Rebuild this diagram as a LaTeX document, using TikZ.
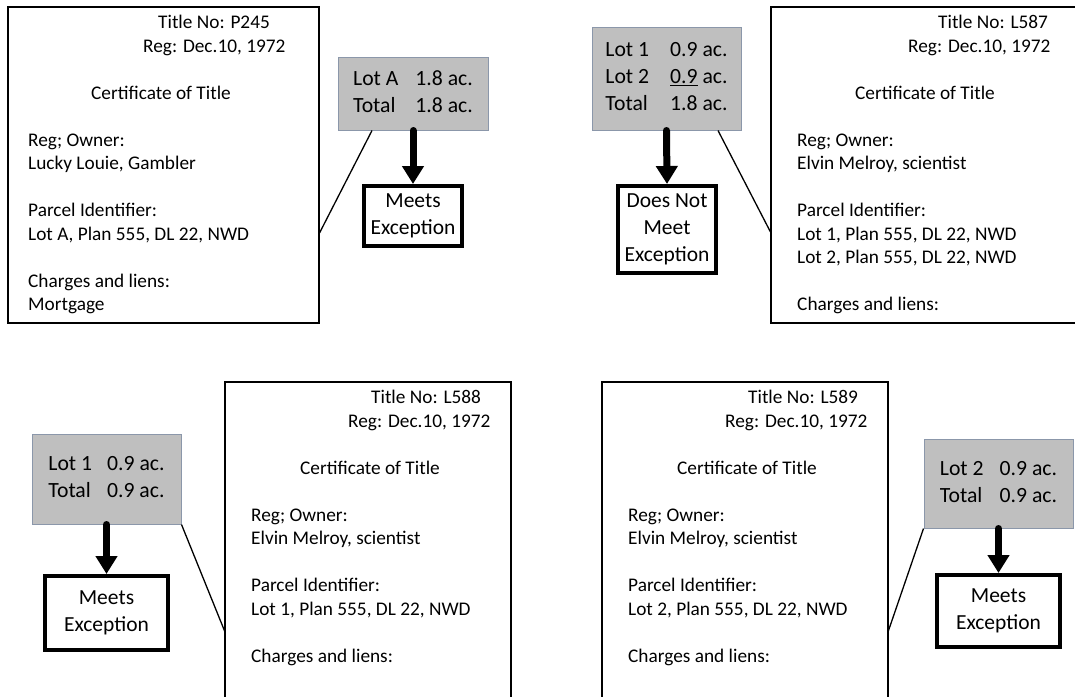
\documentclass[tikz,border=0pt]{standalone}
\usepackage{fontspec}
\setmainfont{Carlito}
\usetikzlibrary{arrows.meta}
\definecolor{lotfill}{RGB}{191,191,191}
\definecolor{lotedge}{RGB}{139,151,170}
\tikzset{
  cert/.style={draw, line width=1.4pt, inner sep=0pt, outer sep=0pt, anchor=north west},
  ctext/.style={font=\fontsize{19.3}{23.5}\selectfont, inner sep=0pt, anchor=base west},
  ctitle/.style={ctext, anchor=base},
  lots/.style={draw=lotedge, fill=lotfill, line width=1pt, inner sep=0pt,
    font=\fontsize{21.7}{27}\selectfont},
  verdict/.style={draw, line width=4pt, inner sep=0pt, align=center,
    font=\fontsize{21.5}{27}\selectfont},
  flow/.style={line width=7pt, line cap=round, -{Triangle[width=21pt,length=18pt]}},
  link/.style={line width=1.3pt},
}
\begin{document}
\begin{tikzpicture}[x=1pt, y=-1pt]
\useasboundingbox (0,0) rectangle (1075,696);
\clip (0,0) rectangle (1075,696);

% ---- Title P245 ----
\node[cert, minimum width=311pt, minimum height=316pt] (c1) at (8,7) {};
\node[ctext] (c1no) at (158,28) {Title No: P245};
\node[ctext] (c1reg) at (143,52) {Reg: Dec.10, 1972};
\node[ctitle] (c1cap) at (161,99) {Certificate of Title};
\node[ctext] (c1o) at (28,146) {Reg; Owner:};
\node[ctext] (c1on) at (28,169.5) {Lucky Louie, Gambler};
\node[ctext] (c1p) at (28,216.5) {Parcel Identifier:};
\node[ctext] (c1pa) at (28,240) {Lot A, Plan 555, DL 22, NWD};
\node[ctext] (c1ch) at (28,287) {Charges and liens:};
\node[ctext] (c1m) at (28,310.5) {Mortgage};

\node[lots, minimum width=150pt, minimum height=73pt] (g1) at (413,93.5)
  {\begin{tabular}{@{}l@{\hspace{17pt}}r@{}}Lot A & 1.8 ac.\\ Total & 1.8 ac.\end{tabular}};
\node[verdict, minimum width=98pt, minimum height=60pt] (v1) at (413,216) {Meets\\Exception};
\draw[flow] (g1.south) -- (v1.north);
\draw[link] (g1.south -| 372,0) -- (c1.north east |- 0,234);

% ---- Title L587 ----
\node[cert, minimum width=309pt, minimum height=316pt] (c2) at (771,7) {};
\node[ctext] (c2no) at (938,28) {Title No: L587};
\node[ctext] (c2reg) at (908,52) {Reg: Dec.10, 1972};
\node[ctitle] (c2cap) at (925,99) {Certificate of Title};
\node[ctext] (c2o) at (797,146) {Reg; Owner:};
\node[ctext] (c2on) at (797,169.5) {Elvin Melroy, scientist};
\node[ctext] (c2p) at (797,216.5) {Parcel Identifier:};
\node[ctext] (c2pa) at (797,240) {Lot 1, Plan 555, DL 22, NWD};
\node[ctext] (c2pb) at (797,263.5) {Lot 2, Plan 555, DL 22, NWD};
\node[ctext] (c2ch) at (797,310.5) {Charges and liens:};

\node[lots, minimum width=149pt, minimum height=103pt] (g2) at (666.5,78.5)
  {\begin{tabular}{@{}l@{\hspace{21pt}}r@{}}Lot 1 & 0.9 ac.\\ Lot 2 & \underline{0.9} ac.\\ Total & 1.8 ac.\end{tabular}};
\node[verdict, minimum width=98pt, minimum height=87pt] (v2) at (667,229.5) {Does Not\\Meet\\Exception};
\draw[flow] (g2.south) -- (v2.north);
\draw[link] (g2.south -| 718,0) -- (c2.north west |- 0,233);

% ---- Title L588 ----
\node[cert, minimum width=286pt, minimum height=330pt] (c3) at (225,382) {};
\node[ctext] (c3no) at (371,403) {Title No: L588};
\node[ctext] (c3reg) at (348,427) {Reg: Dec.10, 1972};
\node[ctitle] (c3cap) at (370,474) {Certificate of Title};
\node[ctext] (c3o) at (251,521) {Reg; Owner:};
\node[ctext] (c3on) at (251,544.5) {Elvin Melroy, scientist};
\node[ctext] (c3p) at (251,591.5) {Parcel Identifier:};
\node[ctext] (c3pa) at (251,615) {Lot 1, Plan 555, DL 22, NWD};
\node[ctext] (c3ch) at (251,662) {Charges and liens:};

\node[lots, minimum width=149pt, minimum height=90pt] (g3) at (106.5,479)
  {\begin{tabular}{@{}l@{\hspace{15pt}}r@{}}Lot 1 & 0.9 ac.\\ Total & 0.9 ac.\end{tabular}};
\node[verdict, minimum width=123pt, minimum height=74pt] (v3) at (106.5,613) {Meets\\Exception};
\draw[flow] (g3.south) -- (v3.north);
\draw[link] (g3.south east) -- (c3.north west |- 0,632);

% ---- Title L589 ----
\node[cert, minimum width=286pt, minimum height=330pt] (c4) at (602,382) {};
\node[ctext] (c4no) at (748,403) {Title No: L589};
\node[ctext] (c4reg) at (725,427) {Reg: Dec.10, 1972};
\node[ctitle] (c4cap) at (747,474) {Certificate of Title};
\node[ctext] (c4o) at (628,521) {Reg; Owner:};
\node[ctext] (c4on) at (628,544.5) {Elvin Melroy, scientist};
\node[ctext] (c4p) at (628,591.5) {Parcel Identifier:};
\node[ctext] (c4pa) at (628,615) {Lot 2, Plan 555, DL 22, NWD};
\node[ctext] (c4ch) at (628,662) {Charges and liens:};

\node[lots, minimum width=149pt, minimum height=89pt] (g4) at (998.5,483.5)
  {\begin{tabular}{@{}l@{\hspace{16pt}}r@{}}Lot 2 & 0.9 ac.\\ Total & 0.9 ac.\end{tabular}};
\node[verdict, minimum width=123pt, minimum height=72pt] (v4) at (998.5,611) {Meets\\Exception};
\draw[flow] (g4.south) -- (v4.north);
\draw[link] (g4.south west) -- (c4.north east |- 0,632);
\end{tikzpicture}
\end{document}
